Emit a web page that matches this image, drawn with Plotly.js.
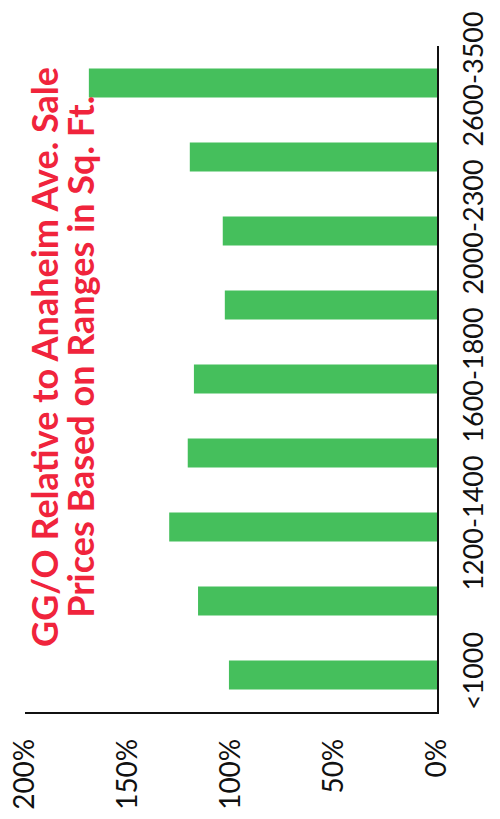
<!DOCTYPE html>
<html>
<head>
<meta charset="utf-8">
<script src="https://cdn.plot.ly/plotly-3.0.1.min.js"></script>
<style>html,body{margin:0;padding:0;background:#fff;}#chart{width:500px;height:819px;}</style>
</head>
<body>
<div id="chart"></div>
<script>
const categories = ["<1000", "1000-1200", "1200-1400", "1400-1600", "1600-1800", "1800-2000", "2000-2300", "2300-2600", "2600-3500"];
const values = [101, 116, 130, 121, 118, 103, 104, 120, 169];
const shownLabels = ["<1000", "1200-1400", "1600-1800", "2000-2300", "2600-3500"];
const valueTicks = [0, 50, 100, 150, 200];
const titleLines = ["GG/O Relative to Anaheim Ave. Sale", "Prices Based on Ranges in Sq. Ft."];

const trace = {
  type: 'bar',
  orientation: 'h',
  y: categories,
  x: values,
  marker: {color: '#45BF5C'},
  hoverinfo: 'none'
};

const titleFont = {size: 36, family: 'Lato, sans-serif', color: '#F0243C', weight: 'bold'};
const titleX = [0.046, 0.133];

const layout = {
  width: 500, height: 819,
  margin: {l: 25, r: 63, t: 46, b: 107},
  paper_bgcolor: '#fff', plot_bgcolor: '#fff',
  showlegend: false,
  bargap: 0.61,
  font: {family: 'Lato, sans-serif', color: '#111'},
  xaxis: {
    range: [200, 0],
    tickvals: valueTicks,
    ticktext: valueTicks.map(v => v + '%'),
    tickangle: -90,
    tickfont: {size: 28, family: 'Lato, sans-serif', color: '#111'},
    showgrid: false, zeroline: false,
    showline: true, linecolor: '#111', linewidth: 1.5,
    ticks: '', ticklabelstandoff: 14,
    fixedrange: true
  },
  yaxis: {
    type: 'category',
    categoryarray: categories,
    side: 'right',
    tickvals: shownLabels,
    ticktext: shownLabels,
    tickangle: -90,
    tickfont: {size: 27, family: 'Lato, sans-serif', color: '#111'},
    showgrid: false, zeroline: false,
    showline: true, linecolor: '#111', linewidth: 1.5,
    ticks: '', ticklabelstandoff: 12,
    fixedrange: true
  },
  annotations: titleLines.map((t, i) => ({
    text: t,
    xref: 'paper', yref: 'paper',
    x: titleX[i], y: 0.533,
    xanchor: 'center', yanchor: 'middle',
    textangle: -90,
    showarrow: false,
    font: titleFont
  }))
};

Plotly.newPlot('chart', [trace], layout, {staticPlot: true});
</script>
</body>
</html>
